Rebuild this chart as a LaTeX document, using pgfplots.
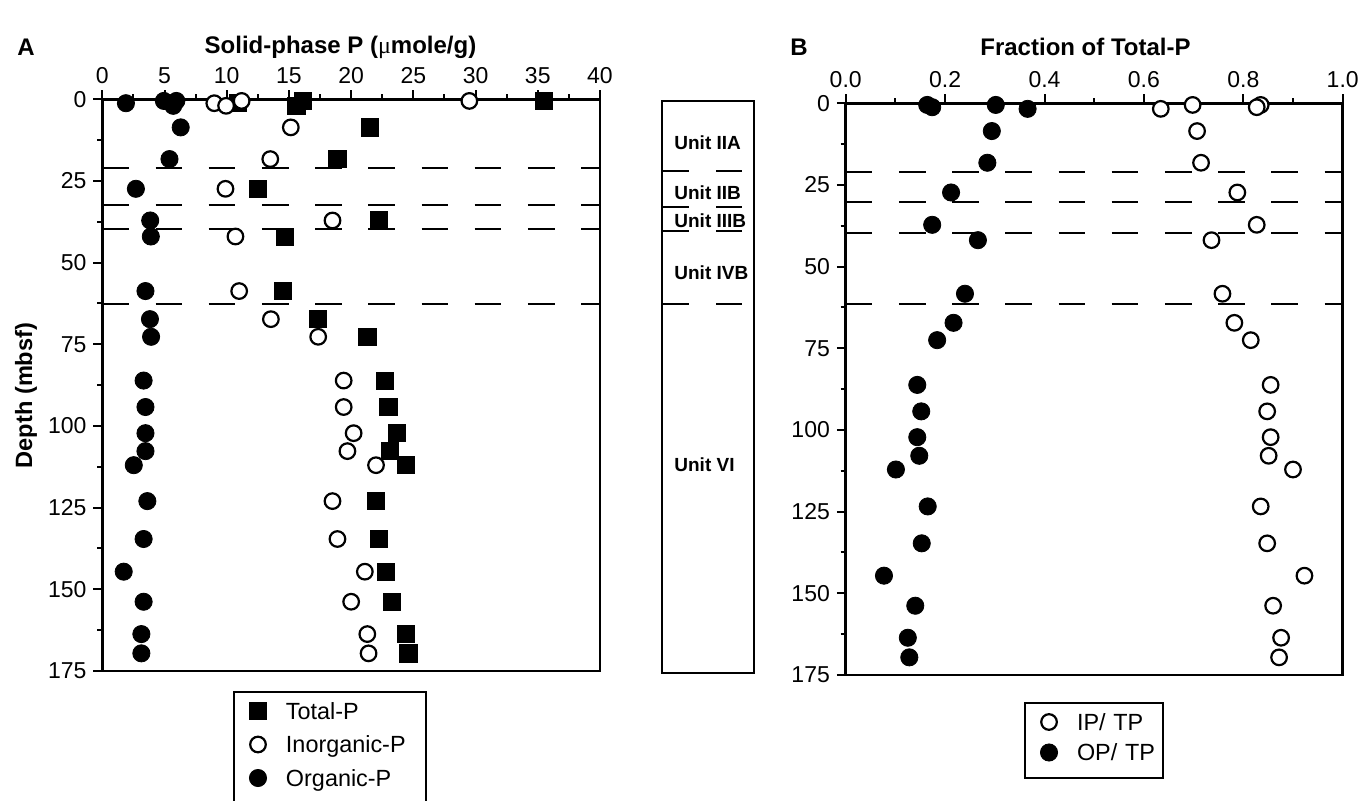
\documentclass[border=0pt]{standalone}
\usepackage{fontspec}
\setmainfont{Liberation Sans}
\newfontfamily\seriffont{Liberation Serif}
\usepackage{pgfplots}
\usepackage{pgfplotstable}
\pgfplotsset{compat=1.18}

% Panel A: depth (mbsf), Total-P, Inorganic-P, Organic-P (umole/g)
\pgfplotstableread{
depth tp ip op
0.5 35.5 29.5 5.95
1.2 10.9 9.0 1.9
0.5 16.1 11.2 4.95
2.0 15.6 9.95 5.7
8.6 21.5 15.15 6.3
18.3 18.9 13.5 5.4
27.4 12.5 9.9 2.7
37.1 22.2 18.5 3.85
42.0 14.7 10.7 3.9
58.7 14.5 11.0 3.47
67.3 17.3 13.55 3.83
72.7 21.3 17.35 3.92
86.1 22.7 19.4 3.32
94.2 23.0 19.4 3.47
102.2 23.7 20.2 3.47
107.7 23.1 19.7 3.47
112.0 24.4 22.0 2.53
123.0 22.0 18.5 3.62
134.6 22.2 18.9 3.32
144.6 22.8 21.1 1.72
153.8 23.3 20.0 3.32
163.7 24.4 21.3 3.14
169.6 24.6 21.4 3.14
}\dataA

% Panel B: depth (mbsf), IP/TP, OP/TP
\pgfplotstableread{
depth iptp optp
0.5 0.835 0.164
1.2 0.827 0.174
0.5 0.698 0.302
1.7 0.634 0.366
8.5 0.707 0.294
18.2 0.715 0.285
27.3 0.788 0.212
37.2 0.827 0.174
41.9 0.736 0.266
58.3 0.758 0.240
67.2 0.782 0.217
72.5 0.815 0.184
86.2 0.855 0.144
94.3 0.848 0.152
102.2 0.855 0.144
107.9 0.851 0.148
112.1 0.900 0.101
123.4 0.835 0.165
134.7 0.848 0.153
144.6 0.923 0.077
153.8 0.860 0.140
163.6 0.876 0.125
169.6 0.872 0.128
}\dataB

\pgfplotsset{
  panel/.style={
    scale only axis, y dir=reverse, ymin=0, ymax=175, clip=false,
    axis line style={line width=1.3pt},
    tick align=outside, major tick length=4.4pt, minor tick length=2.6pt,
    tick style={line width=1pt, black},
    xtick pos=right, xticklabel pos=right,
    ytick pos=left, yticklabel pos=left,
    ytick={0,25,...,175}, minor y tick num=1,
    minor x tick num=1,
    ticklabel style={font=\fontsize{11.5}{13}\selectfont},
    /pgf/number format/assume math mode=true,
  },
  tpmark/.style={only marks, mark=square*, mark size=4.3pt, mark options={fill=black, draw=black, line width=0.4pt}},
  ipmark/.style={only marks, mark=*, mark size=3.9pt, mark options={fill=white, draw=black, line width=1.1pt}},
  opmark/.style={only marks, mark=*, mark size=4.3pt, mark options={fill=black, draw=black, line width=0.4pt}},
  legA/.style={legend image code/.code={\path[draw=none,fill=none] (0pt,-3.15pt) rectangle (26.15pt,13.6pt); \draw[##1] plot coordinates {(12.15pt,4.1pt)};}},
  legAlast/.style={legend image code/.code={\path[draw=none,fill=none] (0pt,-25pt) rectangle (26.15pt,13.6pt); \draw[##1] plot coordinates {(12.15pt,4.1pt)};}},
  legB/.style={legend image code/.code={\path[draw=none,fill=none] (0pt,-1.5pt) rectangle (26.2pt,13.75pt); \draw[##1] plot coordinates {(12.2pt,4.1pt)};}},
  legBlast/.style={legend image code/.code={\path[draw=none,fill=none] (0pt,-8.8pt) rectangle (26.2pt,13.75pt); \draw[##1] plot coordinates {(12.2pt,4.1pt)};}},
  unitdash/.style={forget plot, black, line width=1pt, dash pattern=on 13.3pt off 13.3pt},
}

\begin{document}
\begin{tikzpicture}[x=1pt,y=1pt]
\useasboundingbox (0,0) rectangle (683,400.5);

% ---------------- Panel A ----------------
\begin{axis}[panel,
  at={(51.15pt,65pt)}, anchor=south west, width=248.85pt, height=285.85pt,
  xmin=0, xmax=40, xtick={0,5,...,40},
  legend style={at={(0.262,-0.035)}, anchor=north west, draw=black, line width=1pt,
    inner sep=0pt, row sep=0pt, column sep=0pt, cells={anchor=base west},
    nodes={draw=none, inner sep=0pt, text height=13.6pt, text depth=3.15pt, text width=70pt,
      font=\fontsize{11.7}{13}\selectfont}},
]
\addplot[unitdash] coordinates {(0,21.1) (40,21.1)};
\addplot[unitdash] coordinates {(0,32.4) (40,32.4)};
\addplot[unitdash] coordinates {(0,39.7) (40,39.7)};
\addplot[unitdash] coordinates {(0,62.6) (40,62.6)};
\addplot[tpmark, legA] table[x=tp, y=depth] {\dataA};
\addlegendentry{Total-P}
\addplot[ipmark, legA] table[x=ip, y=depth] {\dataA};
\addlegendentry{Inorganic-P}
\addplot[opmark, legAlast] table[x=op, y=depth] {\dataA};
\addlegendentry{Organic-P}
\end{axis}

% ---------------- Lithologic units ----------------
\begin{axis}[scale only axis, at={(331pt,64.15pt)}, anchor=south west,
  width=46pt, height=286pt, xmin=0, xmax=92, ymin=0, ymax=175, y dir=reverse,
  xtick=\empty, ytick=\empty, axis line style={line width=0.9pt}, clip=false,
  unbounded coords=jump]
\addplot[black, line width=1pt] coordinates {(1,21.4) (27,21.4) (40,nan) (54,21.4) (80,21.4)};
\addplot[black, line width=1pt] coordinates {(1,32.4) (27,32.4) (40,nan) (54,32.4) (80,32.4)};
\addplot[black, line width=1pt] coordinates {(1,39.8) (27,39.8) (40,nan) (54,39.8) (80,39.8)};
\addplot[black, line width=1pt] coordinates {(1,62.3) (27,62.3) (40,nan) (54,62.3) (80,62.3)};
\begin{scope}[every node/.style={anchor=west, inner sep=0pt, font=\bfseries\fontsize{9.5}{11}\selectfont}]
\node at (axis cs:12,13.0) {Unit IIA};
\node at (axis cs:12,28.3) {Unit IIB};
\node at (axis cs:12,36.8) {Unit IIIB};
\node at (axis cs:12,52.5) {Unit IVB};
\node at (axis cs:12,111.5) {Unit VI};
\end{scope}
\end{axis}

% ---------------- Panel B ----------------
\begin{axis}[panel,
  at={(422.85pt,63pt)}, anchor=south west, width=248.5pt, height=285.85pt,
  xmin=0, xmax=1, xtick={0,0.2,0.4,0.6,0.8,1}, xticklabels={0.0,0.2,0.4,0.6,0.8,1.0},
  legend style={at={(0.358,-0.0467)}, anchor=north west, draw=black, line width=1pt,
    inner sep=0pt, row sep=0pt, column sep=0pt, cells={anchor=base west},
    nodes={draw=none, inner sep=0pt, text height=13.75pt, text depth=1.5pt, text width=42.8pt,
      font=\fontsize{11.7}{13}\selectfont}},
]
\addplot[unitdash] coordinates {(0,20.9) (1,20.9)};
\addplot[unitdash] coordinates {(0,30.1) (1,30.1)};
\addplot[unitdash] coordinates {(0,39.8) (1,39.8)};
\addplot[unitdash] coordinates {(0,61.3) (1,61.3)};
\addplot[ipmark, legB] table[x=iptp, y=depth] {\dataB};
\addlegendentry{IP/ TP}
\addplot[opmark, legBlast] table[x=optp, y=depth] {\dataB};
\addlegendentry{OP/ TP}
\end{axis}

% ---------------- Titles and labels ----------------
\node[font=\bfseries\fontsize{12}{14}\selectfont] at (13,377) {A};
\node[font=\bfseries\fontsize{12}{14}\selectfont] at (170.25,377) {Solid-phase P ({\seriffont\mdseries μ}mole/g)};
\node[font=\bfseries\fontsize{12}{14}\selectfont] at (399.5,377) {B};
\node[font=\bfseries\fontsize{12}{14}\selectfont] at (542.75,377) {Fraction of Total-P};
\node[rotate=90, font=\bfseries\fontsize{11.8}{14}\selectfont] at (13,202.75) {Depth (mbsf)};
\end{tikzpicture}
\end{document}
